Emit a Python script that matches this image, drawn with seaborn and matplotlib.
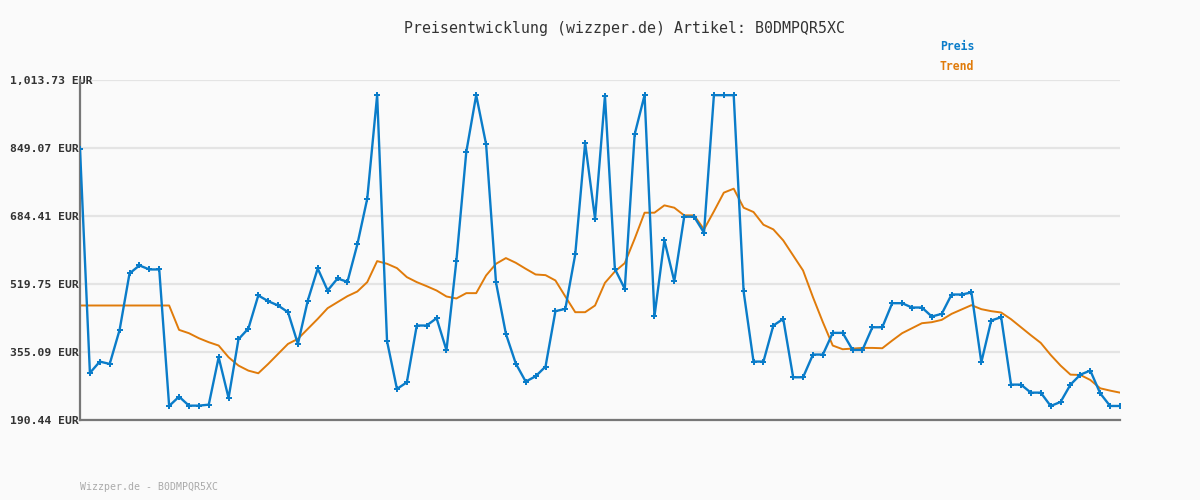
import numpy as np
import pandas as pd
import seaborn as sns
import matplotlib.pyplot as plt

# Preis (EUR)
preis = [847, 304.4, 331.9, 326.2, 408.7, 545.3, 564.7, 555, 555, 224.4,
         247, 225.2, 225.2, 227.6, 342.4, 243.8, 386, 412, 492, 478.2,
         467.7, 451.5, 374.7, 479.8, 557.4, 504, 533.1, 525, 615.6, 726.3,
         977, 381.2, 265.6, 281.8, 419.2, 419.2, 437, 359.4, 576, 839.5,
         977, 858.1, 523.5, 399, 327, 283.4, 296.3, 319.8, 454, 459.6,
         591.4, 861.3, 677.8, 975.3, 556.5, 508.1, 882.3, 977, 441.8, 625.3,
         526.7, 682.7, 682.7, 643.9, 977, 977, 977, 501.6, 331.9, 331.9,
         419.2, 435.3, 293.9, 293.9, 348.9, 348.9, 401.4, 401.4, 360.2, 360.2,
         415, 415, 473.3, 473.3, 462.8, 462.8, 441, 447.5, 494.3, 494.3,
         499.2, 330.3, 431.3, 439.4, 276.1, 276.1, 256.7, 256.7, 224.4, 234.1,
         276.1, 300.3, 310.1, 255.1, 224.4, 224.4]

trend = [467.7, 467.7, 467.7, 467.7, 467.7, 467.7, 467.7, 467.7, 467.7, 467.7,
         408.7, 400.6, 388.5, 378.8, 370.7, 342.4, 322.2, 310, 303.6, 326.2,
         350.5, 374.7, 386.9, 411.1, 435.3, 461.2, 475.8, 490.3, 501.6, 524.3,
         575.2, 568.7, 558.2, 536.4, 524.3, 514.5, 504, 489.5, 484.7, 497.6,
         497.6, 540.4, 568.7, 582.5, 571.1, 556.6, 542.8, 541.2, 528.3, 489.5,
         451.5, 451.5, 467.7, 522.6, 550, 570.3, 629.3, 692.4, 692.4, 710.2,
         704.5, 685.9, 685.9, 652, 695.6, 740.9, 750.6, 704.5, 694, 663.3,
         652, 625.3, 588.9, 552.5, 487.9, 427.3, 370.7, 361.8, 363.4, 365,
         365, 364.2, 382.8, 400.6, 412.7, 424.8, 427.3, 432.9, 447.5, 458,
         468.5, 458.8, 454, 450.7, 434.5, 415.1, 395.7, 377.1, 348, 322.2,
         300.3, 299.5, 287.4, 267.2, 261.6, 256.7]

yticks = [190.44, 355.09, 519.75, 684.41, 849.07, 1013.73]
ytick_labels = ["190.44 EUR", "355.09 EUR", "519.75 EUR",
                "684.41 EUR", "849.07 EUR", "1,013.73 EUR"]

df = pd.DataFrame({"idx": np.arange(len(preis)), "Preis": preis, "Trend": trend})

blue = "#0a7cc9"
orange = "#e07b0a"
bg = "#fafafa"

sns.set_theme(style="white")
plt.rcParams["font.family"] = ["DejaVu Sans Mono", "DejaVu Sans"]

fig = plt.figure(figsize=(12, 5), dpi=100, facecolor=bg)
ax = fig.add_axes([80 / 1200, 80 / 500, 1040 / 1200, 340 / 500])
ax.set_facecolor(bg)

for v in yticks:
    ax.axhline(v, color="#e4e4e4", lw=1.6, zorder=0)

sns.lineplot(data=df, x="idx", y="Trend", ax=ax, color=orange, lw=1.4, zorder=2)
sns.lineplot(data=df, x="idx", y="Preis", ax=ax, color=blue, lw=1.7,
             marker="P", markersize=4, markeredgewidth=0, zorder=3)

ax.set_xlim(0, len(preis) - 1)
ax.set_ylim(yticks[0], yticks[-1])
ax.set_xticks([])
ax.set_yticks(yticks)
ax.set_yticklabels(ytick_labels, fontsize=8.2, fontweight="bold", color="#333333")
for lab in ax.get_yticklabels():
    lab.set_horizontalalignment("left")
ax.tick_params(axis="y", length=0, pad=50.4)
ax.set_xlabel("")
ax.set_ylabel("")

for s in ["top", "right"]:
    ax.spines[s].set_visible(False)
for s in ["left", "bottom"]:
    ax.spines[s].set_color("#777777")
    ax.spines[s].set_linewidth(1.6)

fig.text(0.52, 1 - 28 / 500, "Preisentwicklung (wizzper.de) Artikel: B0DMPQR5XC",
         ha="center", va="center", fontsize=10.7, color="#333333")
fig.text(940 / 1200, 1 - 47 / 500, "Preis", ha="left", va="center",
         fontsize=8.3, fontweight="bold", color=blue)
fig.text(940 / 1200, 1 - 67 / 500, "Trend", ha="left", va="center",
         fontsize=8.3, fontweight="bold", color=orange)
fig.text(80 / 1200, 1 - 487 / 500, "Wizzper.de - B0DMPQR5XC", ha="left",
         va="center", fontsize=7.1, color="#aaaaaa")

fig.savefig("out.png", dpi=100, facecolor=bg)
